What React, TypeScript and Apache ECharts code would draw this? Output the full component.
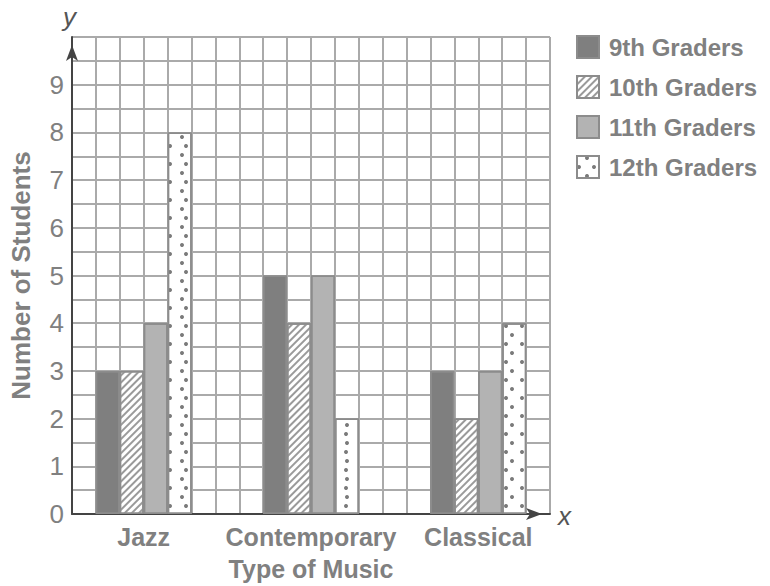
import React, { useEffect, useRef } from "react";
import * as echarts from "echarts";

const categories = ["Jazz", "Contemporary", "Classical"];
const categoryPositions = [3, 10, 17];
const seriesNames = ["9th Graders", "10th Graders", "11th Graders", "12th Graders"];
const grade9 = [3, 5, 3];
const grade10 = [3, 4, 2];
const grade11 = [4, 5, 3];
const grade12 = [8, 2, 4];
const yTicks = [0, 1, 2, 3, 4, 5, 6, 7, 8, 9];

const FONT = "'Liberation Sans', Arial, Helvetica, sans-serif";
const TEXT = "#808080";

export default function App() {
  const ref = useRef<HTMLDivElement>(null);
  useEffect(() => {
    if (!ref.current) return;
    const chart = echarts.init(ref.current, null, { renderer: "svg" });
    const toData = (vals: number[]) => vals.map((v, i) => [categoryPositions[i], v]);
    const labelMap: Record<number, string> = {};
    categoryPositions.forEach((p, i) => (labelMap[p] = categories[i]));
    const border = { borderColor: "#8c8c8c", borderWidth: 1.5 };
    const values = [grade9, grade10, grade11, grade12];
    const styles: any[] = [
      { color: "#7f7f7f", ...border, decal: { symbol: "none" } },
      {
        color: "#ffffff",
        ...border,
        decal: {
          symbol: "rect",
          symbolSize: 1,
          color: "#9a9a9a",
          dashArrayX: [1, 0],
          dashArrayY: [1.5, 3],
          rotation: -Math.PI / 4,
        },
      },
      { color: "#b3b3b3", ...border, decal: { symbol: "none" } },
      {
        color: "#ffffff",
        ...border,
        decal: {
          symbol: "circle",
          symbolSize: 1,
          color: "#7a7a7a",
          dashArrayX: [
            [4, 11],
            [0, 7.5, 4, 3.5],
          ],
          dashArrayY: [4, 4.5],
          rotation: 0,
        },
      },
    ];
    chart.setOption({
      animation: false,
      aria: { enabled: true, decal: { show: true } },
      grid: { left: 70, top: 37, width: 480, height: 480, containLabel: false },
      legend: {
        orient: "vertical",
        left: 571,
        top: 30,
        itemWidth: 22,
        itemHeight: 22,
        itemGap: 16,
        icon: "rect",
        textStyle: {
          fontSize: 24,
          fontWeight: "bold",
          color: TEXT,
          fontFamily: FONT,
          padding: [0, 0, 0, 5],
        },
        data: seriesNames,
      },
      xAxis: {
        type: "value",
        min: 0,
        max: 20,
        interval: 1,
        name: "Type of Music",
        nameLocation: "middle",
        nameGap: 42,
        nameTextStyle: { fontSize: 25, fontWeight: "bold", color: TEXT, fontFamily: FONT },
        axisLine: {
          show: true,
          lineStyle: { color: "#444", width: 2 },
          symbol: ["none", "arrow"],
          symbolSize: [9, 16],
          symbolOffset: [0, -8],
        },
        axisTick: { show: false },
        axisLabel: {
          margin: 10,
          fontSize: 25,
          fontWeight: "bold",
          color: TEXT,
          fontFamily: FONT,
          formatter: (v: number) => labelMap[v] ?? "",
        },
        splitLine: { show: true, lineStyle: { color: "#aaaaaa", width: 2 } },
      },
      yAxis: {
        type: "value",
        min: 0,
        max: 10,
        interval: 0.5,
        name: "Number of Students",
        nameLocation: "middle",
        nameGap: 38,
        nameTextStyle: { fontSize: 26, fontWeight: "bold", color: TEXT, fontFamily: FONT },
        axisLine: {
          show: true,
          lineStyle: { color: "#444", width: 2 },
          symbol: ["none", "arrow"],
          symbolSize: [9, 16],
          symbolOffset: [0, -8],
        },
        axisTick: { show: false },
        axisLabel: {
          margin: 8,
          fontSize: 26,
          color: TEXT,
          fontFamily: FONT,
          formatter: (v: number) => (yTicks.includes(v) ? String(v) : ""),
        },
        splitLine: { show: true, lineStyle: { color: "#aaaaaa", width: 2 } },
      },
      graphic: [
        {
          type: "text",
          left: 63,
          top: 4,
          style: { text: "y", fill: "#555", font: `italic 26px ${FONT}` },
        },
        {
          type: "text",
          left: 558,
          top: 503,
          style: { text: "x", fill: "#555", font: `italic 26px ${FONT}` },
        },
      ],
      series: seriesNames.map((name, i) => ({
        name,
        type: "bar",
        barWidth: 24,
        barGap: "0%",
        data: toData(values[i]),
        itemStyle: styles[i],
        emphasis: { disabled: true },
      })),
    });
    return () => chart.dispose();
  }, []);
  return (
    <div
      ref={ref}
      style={{ position: "fixed", left: 0, top: 0, width: 770, height: 586, background: "#fff" }}
    />
  );
}
